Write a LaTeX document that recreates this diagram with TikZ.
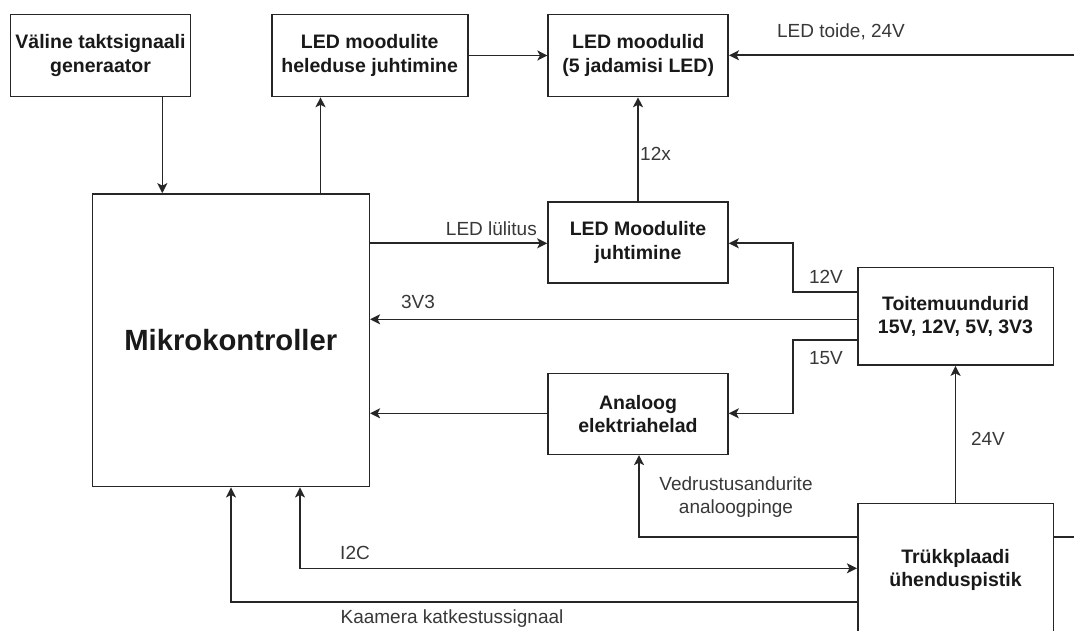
\documentclass[tikz,border=0pt]{standalone}
\usepackage{fontspec}
\setmainfont{Liberation Sans}
\usetikzlibrary{arrows.meta}
\begin{document}
\begin{tikzpicture}[x=1pt,y=-1pt,
  box/.style={draw=black!85, line width=1.6pt, fill=white, align=center, inner sep=0pt,
    text=black!90, font=\fontsize{19.5}{23.4}\selectfont\bfseries},
  lbl/.style={font=\fontsize{19}{23}\selectfont, text=black!78, inner sep=0pt, align=center},
  tip/.tip={Stealth[length=10pt,width=10pt,inset=2.5pt]},
  arr/.style={draw=black!85, line width=1.6pt, -tip},
  arrb/.style={draw=black!85, line width=1.6pt, tip-tip},
  ln/.style={draw=black!85, line width=1.6pt}]
\useasboundingbox (0,0) rectangle (1074,631);
\fill[white] (0,0) rectangle (1074,631);
\clip (0,0) rectangle (1074,631);

% boxes
\node[box, minimum width=180pt, minimum height=82pt] (val) at (100.5,55.5) {Väline taktsignaali\\generaator};
\node[box, minimum width=196pt, minimum height=82pt] (hel) at (369.7,55.5) {LED moodulite\\heleduse juhtimine};
\node[box, minimum width=180pt, minimum height=82pt] (mod) at (638.2,55.5) {LED moodulid\\(5 jadamisi LED)};
\node[box, minimum width=277pt, minimum height=292.7pt, font=\fontsize{29.25}{35}\selectfont\bfseries] (mik) at (230.8,340.3) {Mikrokontroller};
\node[box, minimum width=180pt, minimum height=81pt] (juh) at (638,242.5) {LED Moodulite\\juhtimine};
\node[box, minimum width=195.6pt, minimum height=97.7pt] (toi) at (955.5,316.2) {Toitemuundurid\\15V, 12V, 5V, 3V3};
\node[box, minimum width=180pt, minimum height=81pt] (ana) at (638,413.8) {Analoog\\elektriahelad};
\node[box, minimum width=195.6pt, minimum height=132.7pt] (trk) at (955.5,569.7) {Trükkplaadi\\ühenduspistik};

\coordinate (pin1) at (1074,55.3);
\coordinate (pin2) at (1074,536.7);

% connectors
\draw[arr] (val.south -| 162.3,0) -- (mik.north -| 162.3,0);
\draw[arr] (mik.north -| 320.5,0) -- (hel.south -| 320.5,0);
\draw[arr] (hel.east) -- (mod.west);
\draw[arr] (pin1) -- (mod.east |- pin1);
\draw[arr] (juh.north) -- (juh.north |- mod.south);
\draw[arr] (mik.east |- 0,243.3) -- (juh.west |- 0,243.3);
\draw[arr] (toi.west |- 0,291.7) -| (792.7,243.3) -- (juh.east |- 0,243.3);
\draw[arr] (toi.west |- 0,319.3) -- (mik.east |- 0,319.3);
\draw[arr] (toi.west |- 0,340) -| (792.7,413.3) -- (ana.east |- 0,413.3);
\draw[arr] (ana.west |- 0,413.3) -- (mik.east |- 0,413.3);
\draw[arr] (trk.north) -- (toi.south);
\draw[arr] (trk.west |- 0,536.7) -| (ana.south -| 639,0);
\draw[ln] (trk.east |- pin2) -- (pin2);
\draw[arrb] (mik.south -| 300,0) |- (trk.west |- 0,568.3);
\draw[arr] (trk.west |- 0,601.7) -| (mik.south -| 231,0);

% labels
\node[lbl] (lt) at (841,31.7) {LED toide, 24V};
\node[lbl, anchor=west] (l12x) at (640,154.3) {12x};
\node[lbl] (llul) at (491.4,228.5) {LED lülitus};
\node[lbl] (l12v) at (826,276.7) {12V};
\node[lbl] (l3v3) at (418,301.7) {3V3};
\node[lbl] (l15v) at (826,357.7) {15V};
\node[lbl] (l24v) at (988,439.3) {24V};
\node[lbl] (lved) at (736,496.7) {Vedrustusandurite\\analoogpinge};
\node[lbl] (li2c) at (355,553.3) {I2C};
\node[lbl] (lkam) at (452,618.3) {Kaamera katkestussignaal};
\end{tikzpicture}
\end{document}
